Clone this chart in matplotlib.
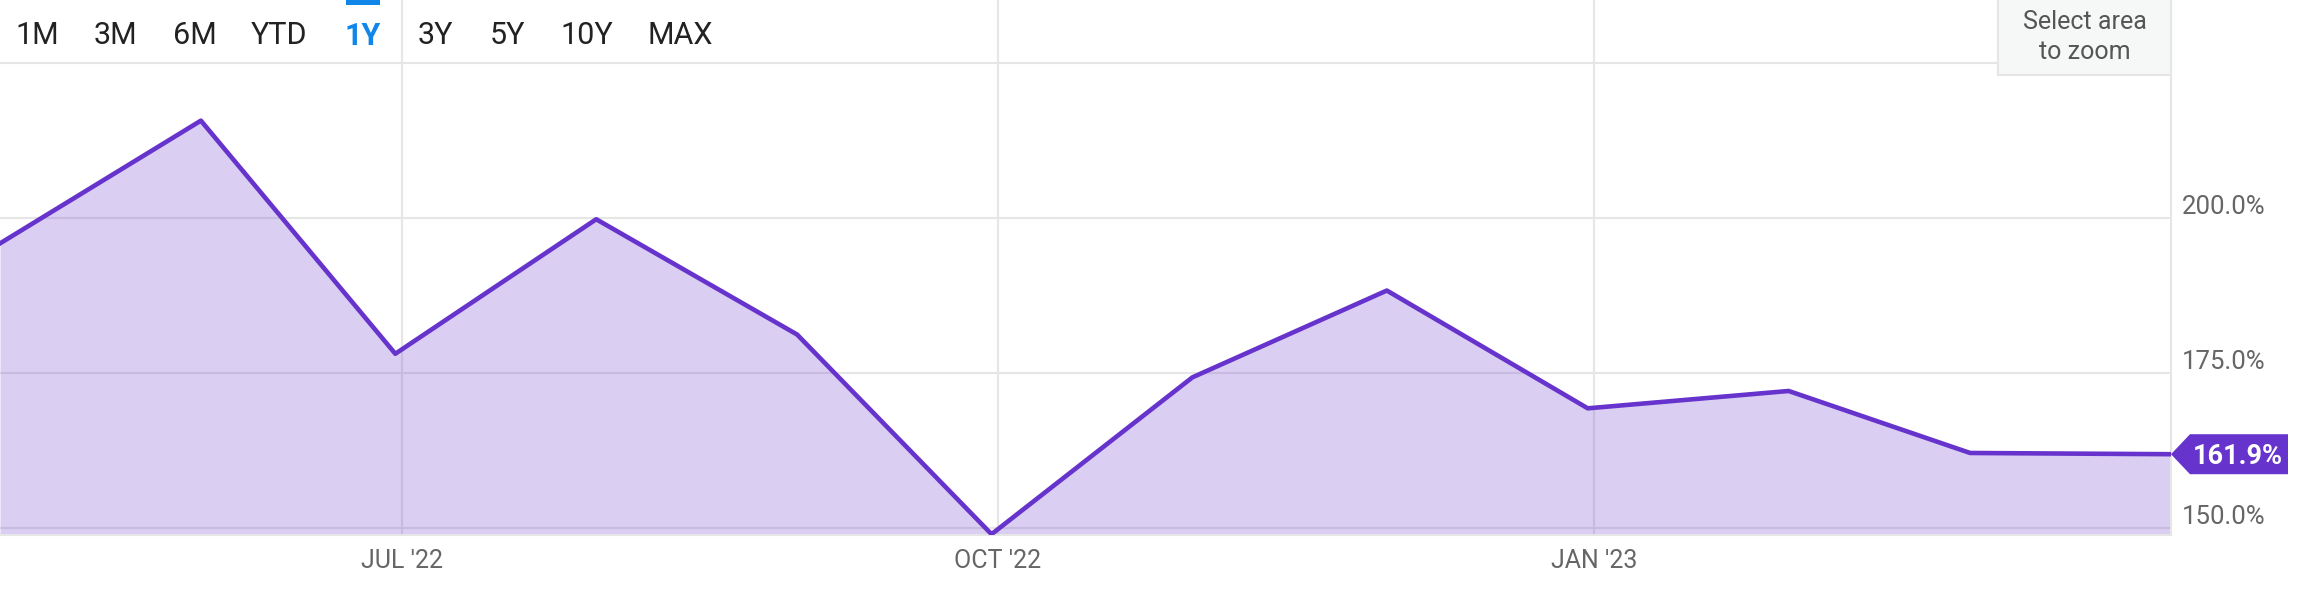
import pandas as pd
import matplotlib
matplotlib.use("Agg")
import matplotlib.pyplot as plt
import matplotlib.transforms as mtransforms
from matplotlib.patches import Polygon, Rectangle

plt.rcParams["font.family"] = ["Roboto", "DejaVu Sans"]

# month-end values (percent)
dates = pd.to_datetime([
    "2022-04-30", "2022-05-31", "2022-06-30", "2022-07-31", "2022-08-31",
    "2022-09-30", "2022-10-31", "2022-11-30", "2022-12-31", "2023-01-31",
    "2023-02-28", "2023-03-31",
])
values = [195.9, 215.7, 178.1, 199.8, 181.2, 149.0, 174.3, 188.3, 169.3, 172.1, 162.1, 161.9]

x_ticks = pd.to_datetime(["2022-07-01", "2022-10-01", "2023-01-01"])
x_tick_labels = ["JUL '22", "OCT '22", "JAN '23"]
y_ticks = [150, 175, 200, 225]
y_tick_labels = ["150.0%", "175.0%", "200.0%", ""]
range_buttons = ["1M", "3M", "6M", "YTD", "1Y", "3Y", "5Y", "10Y", "MAX"]
active_button = "1Y"

line_color = "#6633cc"
grid_color = "#e6e6e6"
W, H = 2312, 600

fig = plt.figure(figsize=(W / 100, H / 100), dpi=100)
ax = fig.add_axes([0, 65 / H, 2171 / W, 535 / H])

ax.fill_between(dates, values, 148.87, color=line_color, alpha=0.24, linewidth=0, zorder=2)
ax.plot(dates, values, color=line_color, linewidth=3.3, zorder=3)

ax.set_xlim(dates[0], dates[-1])
ax.set_ylim(148.87, 235.16)

ax.set_xticks(x_ticks)
ax.set_xticklabels(x_tick_labels, fontsize=18, color="#666666")
ax.set_yticks(y_ticks)
ax.set_yticklabels(y_tick_labels, fontsize=18.5, color="#666666")
ax.yaxis.tick_right()
ax.tick_params(axis="y", length=0, pad=8)
ax.tick_params(axis="x", length=0, pad=10)
up = mtransforms.ScaledTranslation(0, 0.13, fig.dpi_scale_trans)
for lab in ax.get_yticklabels():
    lab.set_transform(lab.get_transform() + up)

ax.grid(True, color=grid_color, linewidth=1.5, zorder=1)
ax.set_axisbelow(True)
for side in ["top", "left"]:
    ax.spines[side].set_visible(False)
for side in ["right", "bottom"]:
    ax.spines[side].set_color(grid_color)
    ax.spines[side].set_linewidth(1.5)

# last value flag
base = mtransforms.blended_transform_factory(ax.transAxes, ax.transData)
flag_trans = fig.dpi_scale_trans + mtransforms.ScaledTranslation(1.0, values[-1], base)
flag = Polygon([(0, 0), (0.19, 0.20), (1.17, 0.20), (1.17, -0.20), (0.19, -0.20)],
               closed=True, transform=flag_trans, facecolor=line_color,
               edgecolor="none", clip_on=False, zorder=5)
ax.add_patch(flag)
ax.text(0.665, -0.02, f"{values[-1]:.1f}%", transform=flag_trans, ha="center", va="center",
        fontsize=19.5, fontweight="bold", color="white", zorder=6, clip_on=False)

# range selector buttons
button_x = [37, 115, 195, 279, 363, 435, 507, 587, 680]
for label, bx in zip(range_buttons, button_x):
    fig.text(bx / W, 1 - 36 / H, label, ha="center", va="center", fontsize=22,
             color="#0f86e8" if label == active_button else "#222222",
             fontweight="bold" if label == active_button else "normal")
fig.patches.append(Rectangle((346 / W, 1 - 5 / H), 34 / W, 5 / H, transform=fig.transFigure,
                             facecolor="#0f86e8", edgecolor="none"))

# zoom hint box
fig.patches.append(Rectangle((1998 / W, 1 - 75 / H), 173 / W, 80 / H, transform=fig.transFigure,
                             facecolor="#f6f7f7", edgecolor=grid_color, linewidth=1.5, zorder=4))
fig.text(2085 / W, 1 - 22 / H, "Select area", ha="center", va="center", fontsize=18,
         color="#555555", zorder=6)
fig.text(2085 / W, 1 - 52 / H, "to zoom", ha="center", va="center", fontsize=18,
         color="#555555", zorder=6)

fig.savefig("out.png", dpi=100, facecolor="white")
